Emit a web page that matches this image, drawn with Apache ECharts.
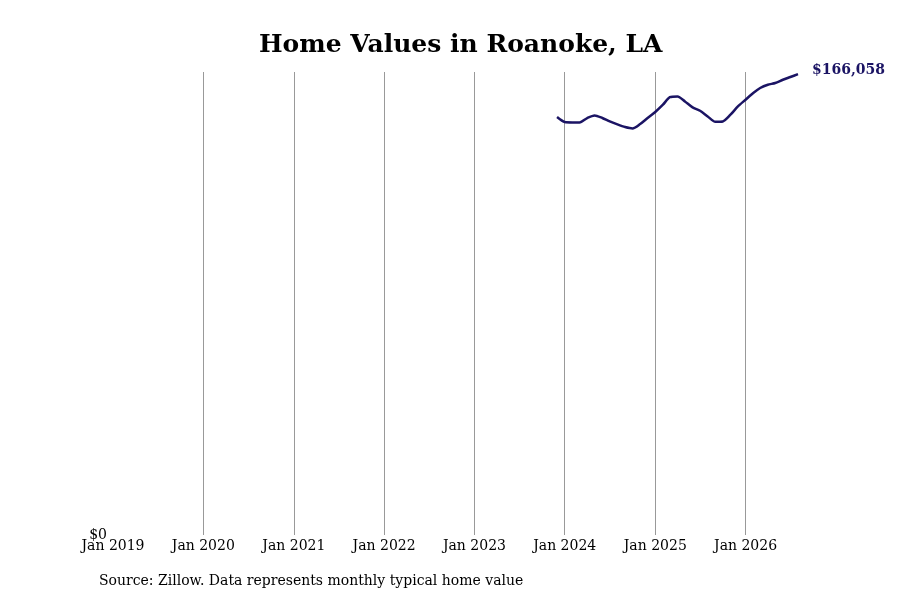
<!DOCTYPE html>
<html>
<head>
<meta charset="utf-8">
<script src="https://cdn.jsdelivr.net/npm/echarts@6/dist/echarts.min.js"></script>
<style>html,body{margin:0;padding:0;background:#fff}#c{width:900px;height:600px}</style>
</head>
<body>
<div id="c"></div>
<script>
const months = [
  '2023-12-01','2024-01-01','2024-02-01','2024-03-01','2024-04-01','2024-05-01','2024-06-01','2024-07-01',
  '2024-08-01','2024-09-01','2024-10-01','2024-11-01','2024-12-01','2025-01-01','2025-02-01','2025-03-01',
  '2025-04-01','2025-05-01','2025-06-01','2025-07-01','2025-08-01','2025-09-01','2025-10-01','2025-11-01',
  '2025-12-01','2026-01-01','2026-02-01','2026-03-01','2026-04-01','2026-05-01','2026-06-01','2026-07-01',
  '2026-08-01'
];
const homeValues = [
  150600,148820,148680,148680,150260,151200,150260,149040,
  147950,147020,146510,148100,150260,152430,155060,157760,
  158050,156250,154090,152890,150840,148930,149040,151450,
  154450,156860,159280,161080,162270,162880,164070,165050,
  166058
];
const axisStart = '2019-01-01T00:00:01';
const yMax = 166850;

const serif = 'DejaVu Serif';
const chart = echarts.init(document.getElementById('c'));
chart.setOption({
  animation: false,
  backgroundColor: '#ffffff',
  title: {
    text: 'Home Values in Roanoke, LA',
    left: 259,
    top: 33,
    padding: 0,
    textStyle: { fontFamily: serif, fontWeight: 'bold', fontSize: 25, color: '#000' }
  },
  graphic: [{
    type: 'text', left: 99, top: 574,
    style: { text: 'Source: Zillow. Data represents monthly typical home value', font: '14px "DejaVu Serif"', fill: '#000' }
  }],
  grid: { left: 113, right: 102, top: 72, bottom: 65, containLabel: false },
  xAxis: {
    type: 'time',
    min: axisStart,
    max: months[months.length - 1],
    minInterval: 365 * 24 * 3600 * 1000,
    maxInterval: 366 * 24 * 3600 * 1000,
    axisLine: { show: false },
    axisTick: { show: false },
    splitLine: { show: true, showMinLine: false, showMaxLine: false, lineStyle: { color: '#999999', width: 1 } },
    axisLabel: {
      showMinLabel: true,
      showMaxLabel: false,
      fontFamily: serif, fontSize: 14, color: '#000', margin: 4,
      formatter: function (v) { const d = new Date(v); return 'Jan ' + d.getFullYear(); }
    }
  },
  yAxis: {
    type: 'value',
    min: 0,
    max: yMax,
    interval: yMax,
    axisLine: { show: false },
    axisTick: { show: false },
    splitLine: { show: false },
    axisLabel: {
      fontFamily: serif, fontSize: 14, color: '#000', margin: 6,
      verticalAlign: 'middle',
      formatter: function (v) { return v === 0 ? '$0' : ''; }
    }
  },
  series: [{
    type: 'line',
    data: months.map((m, i) => [m, homeValues[i]]),
    showSymbol: false,
    smooth: 0.25,
    lineStyle: { color: '#1b1464', width: 2.5 },
    itemStyle: { color: '#1b1464' },
    endLabel: {
      show: true,
      distance: 14,
      offset: [0, -4],
      fontFamily: serif, fontWeight: 'bold', fontSize: 14, color: '#1b1464',
      formatter: function (p) { return '$' + p.value[1].toLocaleString('en-US'); }
    }
  }]
});
</script>
</body>
</html>
